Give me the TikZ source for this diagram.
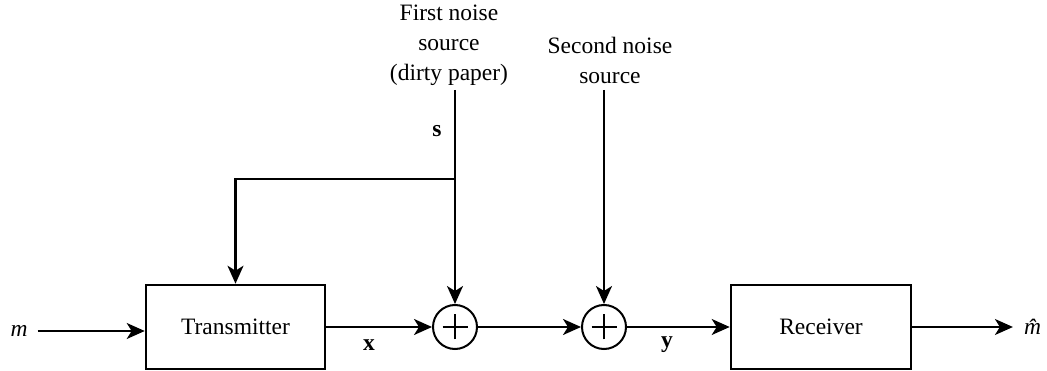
\documentclass[tikz,border=0pt]{standalone}
\usepackage{fontspec}
\setmainfont{Liberation Serif}
\usetikzlibrary{arrows.meta}
\tikzset{
  lbl/.style={font=\fontsize{23.5}{30}\selectfont, inner sep=0pt},
  blockbox/.style={draw, line width=2.6pt, minimum width=179pt, minimum height=84pt,
    font=\fontsize{23.5}{30}\selectfont},
  adder/.style={draw, circle, line width=2pt, minimum size=44pt, inner sep=0pt},
  wire/.style={line width=2.1pt},
  arr/.style={wire, -{Stealth[length=18pt, width=16pt, inset=5pt]}},
}
\begin{document}
\begin{tikzpicture}[x=1pt, y=-1pt]
  \useasboundingbox (0,0) rectangle (1047,371);

  % blocks
  \node[blockbox] (tx) at (235.5,327) {Transmitter};
  \node[blockbox, minimum width=180pt] (rx) at (821,327) {Receiver};

  % summing junctions
  \node[adder] (a1) at (455,327) {};
  \node[adder] (a2) at (604,327) {};
  \foreach \a in {a1,a2} {
    \draw[line width=1.8pt] ([xshift=-12.5pt]\a.center) -- ([xshift=12.5pt]\a.center);
    \draw[line width=1.8pt] ([yshift=-12.5pt]\a.center) -- ([yshift=12.5pt]\a.center);
  }

  % input and output symbols
  \node[lbl] (m) at (19,331) {\textit{m}};
  \node[lbl] (mh) at (1037,327) {\textit{\^m}};

  % noise source labels
  \node[lbl, align=center] (n1) at (449,45) {First noise\\source\\(dirty paper)};
  \node[lbl, align=center] (n2) at (610,60) {Second noise\\source};
  \coordinate (n1b) at (455,90);
  \coordinate (n2b) at (604,90);
  \coordinate (j) at (455,179);

  % signal path
  \draw[arr] ([xshift=10pt]m.east) -- (m -| tx.west);
  \draw[arr] (tx.east) -- (a1.west);
  \draw[arr] (a1.east) -- (a2.west);
  \draw[arr] (a2.east) -- (rx.west);
  \draw[arr] (rx.east) -- ([xshift=-11pt]mh.west);

  % noise inputs and side information to the transmitter
  \draw[arr] (n1b) -- (a1.north);
  \draw[arr] (n2b) -- (a2.north);
  \draw[arr] (j) -| (tx.north);

  % signal labels
  \node[lbl] (s) at (437,131) {\textbf{s}};
  \node[lbl] (xl) at (369,345) {\textbf{x}};
  \node[lbl] (yl) at (667,345) {\textbf{y}};
\end{tikzpicture}
\end{document}
